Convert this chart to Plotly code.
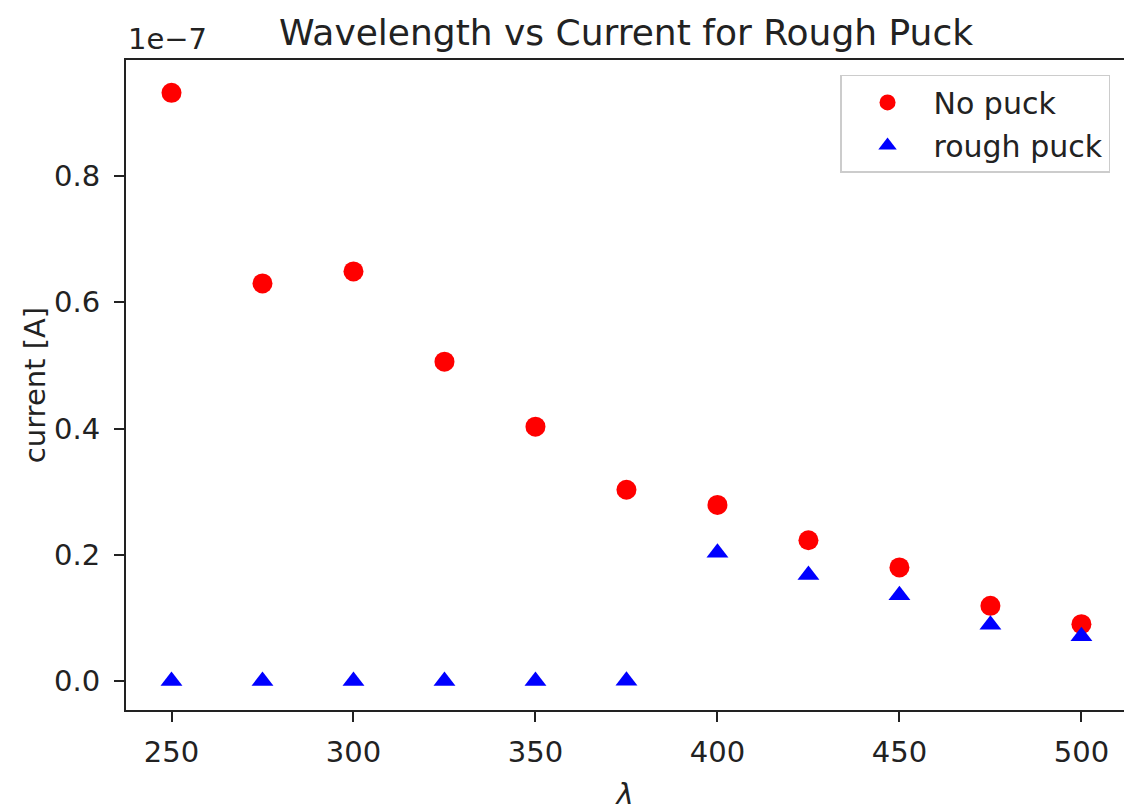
import plotly.graph_objects as go

# Wavelength (nm) and measured photocurrent (A)
wavelength = [250, 275, 300, 325, 350, 375, 400, 425, 450, 475, 500]
no_puck = [9.32e-8, 6.30e-8, 6.49e-8, 5.06e-8, 4.03e-8, 3.03e-8,
           2.79e-8, 2.23e-8, 1.80e-8, 1.19e-8, 0.90e-8]
rough_puck = [0.0, 0.0, 0.0, 0.0, 0.0, 0.04e-9,
              2.03e-8, 1.68e-8, 1.36e-8, 0.89e-8, 0.71e-8]

SCALE = 1e-7  # axis offset factor shown above the y axis
y_ticks = [0.0, 0.2, 0.4, 0.6, 0.8]
x_ticks = [250, 300, 350, 400, 450, 500]

FONT = "DejaVu Sans"
INK = "#222222"
TXT = 29

fig = go.Figure()
fig.add_trace(go.Scatter(
    x=wavelength, y=[v / SCALE for v in no_puck], mode="markers",
    name="No puck", legendgroup="a",
    marker=dict(symbol="circle", size=20, color="#ff0000", line=dict(width=0)),
))
fig.add_trace(go.Scatter(
    x=wavelength, y=[v / SCALE for v in rough_puck], mode="markers",
    name="rough puck", legendgroup="b",
    marker=dict(symbol="triangle-up", size=19, color="#0000ff", line=dict(width=0)),
))

axis_common = dict(
    showgrid=False, zeroline=False, showline=True, linecolor=INK, linewidth=2,
    ticks="outside", ticklen=10, tickwidth=2, tickcolor=INK,
    tickfont=dict(family=FONT, size=TXT, color=INK),
)

fig.update_layout(
    width=1124, height=811,
    margin=dict(l=126, r=0, t=60, b=101),
    plot_bgcolor="white", paper_bgcolor="white",
    font=dict(family=FONT, color=INK),
    title=dict(text="Wavelength vs Current for Rough Puck",
               font=dict(family=FONT, size=36, color=INK),
               x=0.557, xanchor="center", y=0.96, yanchor="middle"),
    xaxis=dict(range=[237.5, 511.7], tickvals=x_ticks, mirror=True,
               ticklabelstandoff=5,
               title=dict(text="<i>λ</i>", font=dict(family=FONT, size=TXT, color=INK),
                          standoff=18),
               **axis_common),
    yaxis=dict(range=[-0.046, 0.984], tickvals=y_ticks,
               ticktext=[f"{t:.1f}" for t in y_ticks],
               ticklabelstandoff=8,
               title=dict(text="current [A]",
                          font=dict(family=FONT, size=TXT, color=INK),
                          standoff=0),
               **axis_common),
    legend=dict(x=0.986, xanchor="right", y=0.977, yanchor="top",
                bgcolor="rgba(255,255,255,0.85)", bordercolor="#cccccc",
                borderwidth=1.5, traceorder="grouped", tracegroupgap=1,
                itemwidth=82,
                font=dict(family=FONT, size=30, color=INK),
                itemsizing="trace"),
    showlegend=True,
    annotations=[dict(text="1e−7", xref="paper", yref="paper",
                      x=0.0, xanchor="left", y=1.0, yanchor="bottom", yshift=2,
                      showarrow=False,
                      font=dict(family=FONT, size=TXT, color=INK))],
)

fig.write_html("out.html")
